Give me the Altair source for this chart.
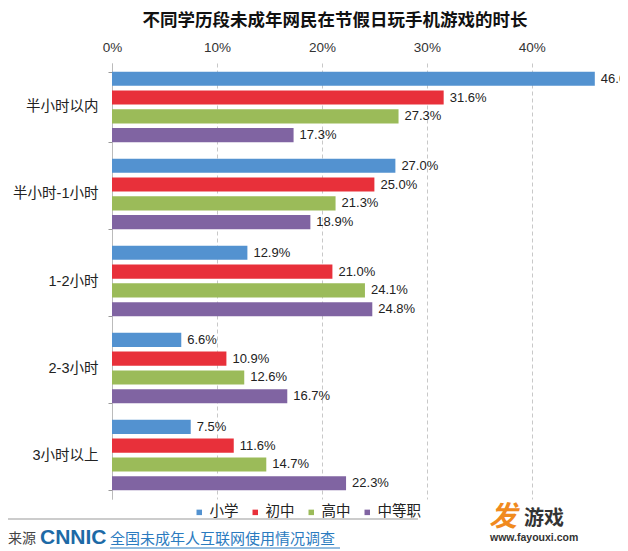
import altair as alt
import pandas as pd

categories = ["半小时以内", "半小时-1小时", "1-2小时", "2-3小时", "3小时以上"]
series = ["小学", "初中", "高中", "中等职"]
primary = [46.0, 27.0, 12.9, 6.6, 7.5]
junior = [31.6, 25.0, 21.0, 10.9, 11.6]
senior = [27.3, 21.3, 24.1, 12.6, 14.7]
vocational = [17.3, 18.9, 24.8, 16.7, 22.3]
colors = ["#5392d0", "#e8303a", "#9bbb59", "#8064a2"]
x_ticks = [0, 10, 20, 30, 40]
title_text = "不同学历段未成年网民在节假日玩手机游戏的时长"
source_text = "来源"
logo_text = "CNNIC"
survey_text = "全国未成年人互联网使用情况调查"

rows = []
for s, vals in zip(series, [primary, junior, senior, vocational]):
    for c, v in zip(categories, vals):
        rows.append({"cat": c, "series": s, "value": v, "label": f"{v:.1f}%"})
df = pd.DataFrame(rows)

W, H = 508, 436
FONT = "Liberation Sans, Noto Sans CJK SC, sans-serif"
CJK = "Noto Sans CJK SC"

y_enc = alt.Y(
    "cat:N", sort=categories,
    scale=alt.Scale(paddingInner=0.19, paddingOuter=0.1),
    axis=alt.Axis(title=None, orient="left", labelFontSize=14.5, labelColor="#222",
                  labelPadding=10, tickBand="extent", tickSize=4, tickColor="#999",
                  domainColor="#bbb", grid=False, labelFont=FONT),
)
yoff = alt.YOffset("series:N", sort=series, scale=alt.Scale(paddingInner=0.25, paddingOuter=0))
x_enc = alt.X(
    "value:Q", scale=alt.Scale(domain=[0, 48.4], nice=False),
    axis=alt.Axis(orient="top", values=x_ticks, labelExpr="datum.value + '%'", title=None,
                  ticks=False, domain=False, labelPadding=9, labelFontSize=13.5,
                  labelFlush=False, labelColor="#333", gridColor="#c8c8c8",
                  gridDash=[4, 3], labelFont=FONT),
)
color = alt.Color(
    "series:N", sort=series, scale=alt.Scale(domain=series, range=colors),
    legend=alt.Legend(orient="none", legendX=80, legendY=442, direction="horizontal",
                      title=None, symbolType="square", symbolSize=30, labelFontSize=14.5,
                      labelOffset=3, columnPadding=9, labelColor="#222", labelFont=FONT),
)

base = alt.Chart(df)
bars = base.mark_bar().encode(x=x_enc, y=y_enc, yOffset=yoff, color=color)
labels = base.mark_text(align="left", baseline="middle", dx=6, fontSize=13, color="#222",
                        font=FONT, clip=True).encode(
    x="value:Q", y=alt.Y("cat:N", sort=categories), yOffset=alt.YOffset("series:N", sort=series),
    text="label:N")


def note(text, x, y, **kw):
    return alt.Chart(pd.DataFrame({"t": [text]})).mark_text(**kw).encode(
        x=alt.value(x), y=alt.value(y), text="t:N")


def rule(x1, x2, y, col="#999"):
    return alt.Chart(pd.DataFrame({"a": [0]})).mark_rule(color=col, strokeWidth=1).encode(
        x=alt.value(x1), x2=alt.value(x2), y=alt.value(y))


title = note(title_text, 223, -42, fontSize=17.5, fontWeight="bold", font=CJK, color="#111",
             align="center", baseline="middle")
src = note(source_text, -104, 476, fontSize=14, font=CJK, color="#444", align="left", baseline="middle")
logo = note(logo_text, -72, 475, fontSize=21, fontWeight="bold", font="Liberation Sans",
            color="#1d6aa6", align="left", baseline="middle")
survey = note(survey_text, -2, 476, fontSize=15, font=CJK, color="#2b7bbf", align="left",
              baseline="middle")
wm1 = note("发", 377, 455, fontSize=28, fontWeight="bold", fontStyle="italic", font=CJK,
           color="#f08a1e", align="left", baseline="middle")
wm2 = note("游戏", 412, 456, fontSize=20, fontWeight="bold", font=CJK, color="#333",
           align="left", baseline="middle")
wm3 = note("www.fayouxi.com", 378, 475, fontSize=10.5, fontWeight="bold", font="Liberation Sans",
           color="#333", align="left", baseline="middle")

chart = alt.layer(
    bars, labels,
    rule(-112, 306, 456), rule(-2, 228, 485, "#2b7bbf"),
    title, src, logo, survey, wm1, wm2, wm3,
).properties(
    width=W, height=H,
    autosize=alt.AutoSizeParams(type="none"),
    padding={"left": 104, "top": 55, "right": 0, "bottom": 50},
).configure_view(stroke=None)

chart.save("out.html", embed_options={"renderer": "svg", "actions": False})
